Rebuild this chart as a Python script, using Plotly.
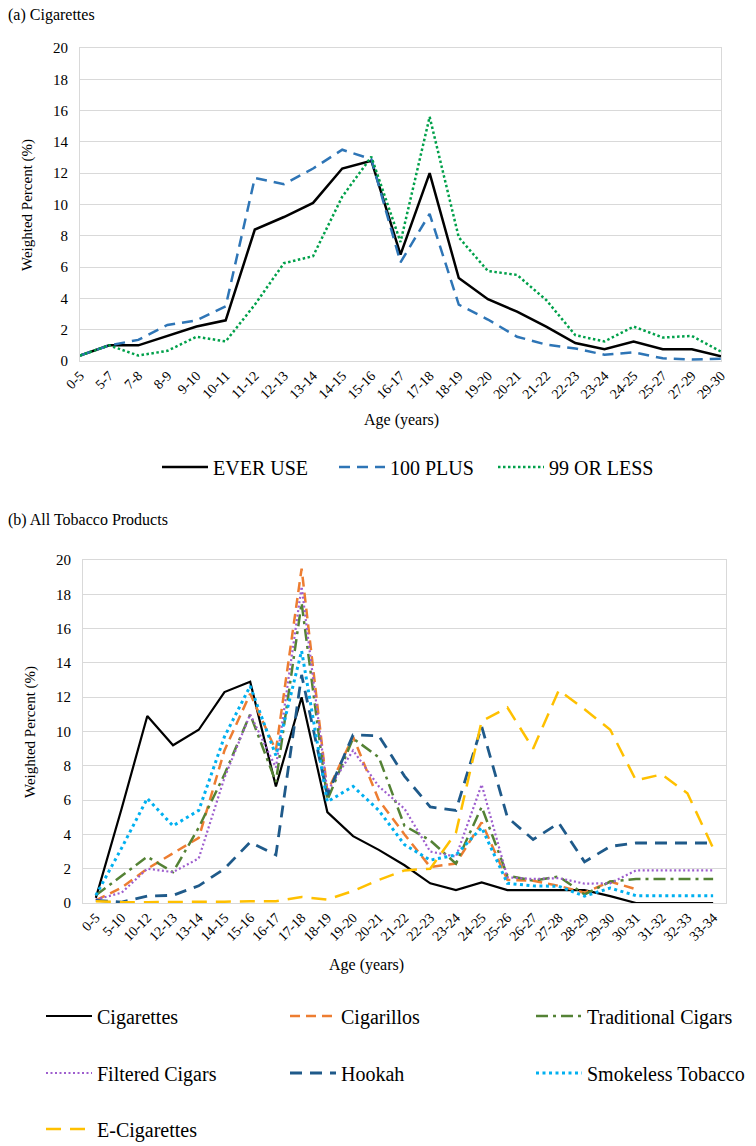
import plotly.graph_objects as go

# (a) Cigarettes: age at first use
ages_a = ["0-5", "5-7", "7-8", "8-9", "9-10", "10-11", "11-12", "12-13", "13-14",
          "14-15", "15-16", "16-17", "17-18", "18-19", "19-20", "20-21", "21-22",
          "22-23", "23-24", "24-25", "25-27", "27-29", "29-30"]
ever_use = [0.35, 1.0, 1.0, 1.6, 2.2, 2.6, 8.4, 9.2, 10.1, 12.3, 12.8, 6.8, 12.0,
            5.3, 3.95, 3.15, 2.2, 1.15, 0.75, 1.25, 0.75, 0.75, 0.3]
plus_100 = [0.35, 1.0, 1.35, 2.3, 2.6, 3.5, 11.7, 11.3, 12.3, 13.5, 12.9, 6.3, 9.4,
            3.6, 2.65, 1.55, 1.05, 0.8, 0.4, 0.55, 0.17, 0.1, 0.15]
less_99 = [0.35, 1.0, 0.35, 0.65, 1.55, 1.25, 3.6, 6.25, 6.7, 10.5, 13.05, 7.6, 15.6,
           7.9, 5.75, 5.5, 3.9, 1.65, 1.25, 2.2, 1.5, 1.6, 0.6]

# (b) All tobacco products
ages_b = ["0-5", "5-10", "10-12", "12-13", "13-14", "14-15", "15-16", "16-17", "17-18",
          "18-19", "19-20", "20-21", "21-22", "22-23", "23-24", "24-25", "25-26",
          "26-27", "27-28", "28-29", "29-30", "30-31", "31-32", "32-33", "33-34"]
cigarettes = [0.3, 5.5, 10.9, 9.2, 10.1, 12.3, 12.9, 6.8, 12.0, 5.3, 3.9, 3.1, 2.2,
              1.15, 0.75, 1.2, 0.75, 0.75, 0.75, 0.75, 0.4, 0, 0, 0, 0]
cigarillos = [0.15, 0.9, 2.0, 2.9, 3.8, 8.9, 12.2, 8.9, 19.5, 6.5, 9.7, 6.0, 4.0,
              2.1, 2.3, 4.7, 1.35, 1.3, 1.0, 0.6, 1.25, 0.8, None, None, None]
trad_cigars = [0.45, 1.6, 2.7, 1.8, 4.4, 7.5, 11.0, 7.05, 17.5, 6.0, 9.6, 8.5, 4.5,
               3.65, 2.3, 5.6, 1.6, 1.3, 1.55, 0.5, 1.25, 1.4, 1.4, 1.4, 1.4]
filtered_cigars = [0.2, 0.6, 2.0, 1.8, 2.6, 7.3, 11.0, 7.9, 18.45, 6.5, 8.9, 6.8, 5.5,
                   3.0, 2.7, 6.9, 1.5, 1.4, 1.45, 1.13, 1.15, 1.9, 1.9, 1.9, 1.9]
hookah = [0.15, 0.05, 0.4, 0.45, 1.0, 2.0, 3.55, 2.8, 13.3, 6.3, 9.8, 9.75, 7.4,
          5.6, 5.4, 10.3, 5.0, 3.7, 4.66, 2.4, 3.3, 3.5, 3.5, 3.5, 3.5]
smokeless = [0.45, 3.2, 6.1, 4.5, 5.4, 9.7, 12.65, 8.6, 14.7, 5.9, 6.8, 5.4, 3.4,
             2.5, 2.8, 4.4, 1.15, 1.0, 0.97, 0.4, 0.87, 0.43, 0.43, 0.43, 0.43]
e_cigs = [0.1, 0.05, 0.05, 0.05, 0.05, 0.08, 0.1, 0.1, 0.35, 0.2, 0.7, 1.35, 1.9,
          2.0, 4.1, 10.6, 11.4, 9.0, 12.4, 11.3, 10.1, 7.15, 7.5, 6.4, 3.2]

FONT = "Liberation Serif, Times New Roman, serif"
GRID = "#D9D9D9"
W, H = 756, 1146

fig = go.Figure()
legends = {}

def add_legend(key, px_x, px_y, size):
    # each legend entry gets its own legend box so it can sit where the original does
    legends[key] = dict(x=px_x / W, xanchor="left", y=1 - px_y / H, yanchor="middle",
                        orientation="h", font=dict(size=size, family=FONT),
                        itemwidth=46, bgcolor="rgba(0,0,0,0)", borderwidth=0)

# panel (a): name, values, colour, dash, width, legend x, legend y
series_a = [
    ("EVER USE", ever_use, "#000000", "solid", 2.5, 157, 467),
    ("100 PLUS", plus_100, "#2E75B6", "11px,7px", 2.5, 334, 467),
    ("99 OR LESS", less_99, "#00A04A", "2.5px,2.5px", 2.5, 493, 467),
]
n = 1
for name, vals, col, dash, w, lx, ly in series_a:
    key = "legend" if n == 1 else f"legend{n}"
    add_legend(key, lx, ly, 20)
    fig.add_trace(go.Scatter(x=ages_a, y=vals, name=name, mode="lines",
                             line=dict(color=col, dash=dash, width=w),
                             xaxis="x", yaxis="y", legend=key))
    n += 1

# panel (b)
series_b = [
    ("Cigarettes", cigarettes, "#000000", "solid", 2.2, 41, 1016),
    ("Cigarillos", cigarillos, "#ED7D31", "10px,6px", 2.5, 285, 1016),
    ("Traditional Cigars", trad_cigars, "#548235", "12px,5px,3px,5px", 2.5, 531, 1016),
    ("Filtered Cigars", filtered_cigars, "#9E5ECE", "2px,2.5px", 2.2, 41, 1073),
    ("Hookah", hookah, "#1F5A8A", "12px,8px", 2.8, 285, 1073),
    ("Smokeless Tobacco", smokeless, "#00B0F0", "3px,3.5px", 3, 531, 1073),
    ("E-Cigarettes", e_cigs, "#FFC000", "15px,9px", 2.5, 41, 1129),
]
for name, vals, col, dash, w, lx, ly in series_b:
    key = f"legend{n}"
    add_legend(key, lx, ly, 20)
    fig.add_trace(go.Scatter(x=ages_b, y=vals, name=name, mode="lines",
                             line=dict(color=col, dash=dash, width=w),
                             xaxis="x2", yaxis="y2", legend=key))
    n += 1

axis_common = dict(showline=True, mirror=True, linecolor=GRID, linewidth=1,
                   ticks="", zeroline=False, automargin=False)
xdom_a = [80 / W, 721 / W]
ydom_a = [1 - 361 / H, 1 - 48 / H]
xdom_b = [83 / W, 726 / W]
ydom_b = [1 - 903 / H, 1 - 560 / H]

fig.update_layout(
    width=W, height=H,
    margin=dict(l=0, r=0, t=0, b=0, autoexpand=False),
    paper_bgcolor="white", plot_bgcolor="white",
    showlegend=True,
    font=dict(family=FONT, color="#000000"),
    xaxis=dict(domain=xdom_a, anchor="y", type="category", range=[0, len(ages_a) - 1],
               tickangle=-45, tickfont=dict(size=14), showgrid=False, **axis_common),
    yaxis=dict(domain=ydom_a, anchor="x", range=[0, 20], dtick=2, showgrid=True,
               gridcolor=GRID, tickfont=dict(size=15), ticklabelstandoff=8, **axis_common),
    xaxis2=dict(domain=xdom_b, anchor="y2", type="category",
                range=[-0.5, len(ages_b) - 0.5], tickangle=-45, tickfont=dict(size=14),
                showgrid=False, **axis_common),
    yaxis2=dict(domain=ydom_b, anchor="x2", range=[0, 20], dtick=2, showgrid=True,
                gridcolor=GRID, tickfont=dict(size=15), ticklabelstandoff=8, **axis_common),
    **legends,
)

# panel titles and axis titles
notes = [
    ("(a) Cigarettes", 6, 15, 16, 0, "left"),
    ("(b) All Tobacco Products", 6, 520, 16, 0, "left"),
    ("Weighted Percent (%)", 28, 205, 15, -90, "center"),
    ("Weighted Percent (%)", 30, 732, 15, -90, "center"),
    ("Age (years)", 401, 420, 16, 0, "center"),
    ("Age (years)", 366, 965, 16, 0, "center"),
]
for txt, px_, py_, size, ang, xa in notes:
    fig.add_annotation(text=txt, x=px_ / W, y=1 - py_ / H, xref="paper", yref="paper",
                       xanchor=xa, yanchor="middle", showarrow=False, textangle=ang,
                       font=dict(size=size, family=FONT))

# drop the page's default body margin so the figure starts at the window corner
fig.write_html("out.html", config={"displayModeBar": False},
               post_script="document.body.style.margin='0';")
